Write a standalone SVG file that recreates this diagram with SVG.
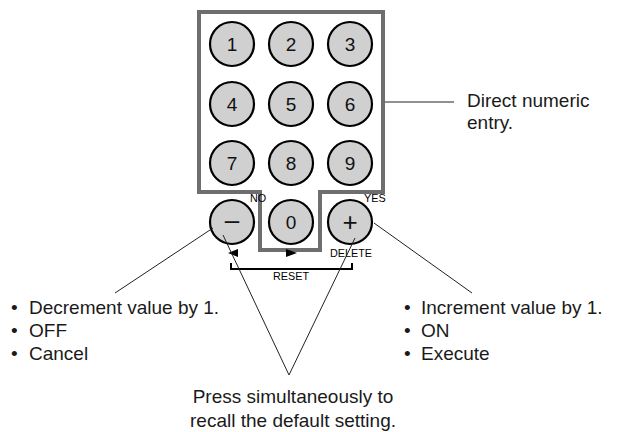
<svg xmlns="http://www.w3.org/2000/svg" width="621" height="432" viewBox="0 0 621 432">
  <style>
    .key { fill: #d0d0d0; stroke: #000; stroke-width: 2.2; }
    .num { font-family: "Liberation Sans", Arial, sans-serif; font-size: 19px; fill: #111; text-anchor: middle; }
    .sym { font-family: "Liberation Sans", Arial, sans-serif; font-size: 26px; fill: #111; text-anchor: middle; }
    .lbl { font-family: "Liberation Sans", Arial, sans-serif; font-size: 10.8px; fill: #000; }
    .txt { font-family: "Liberation Sans", Arial, sans-serif; font-size: 19px; fill: #1a1a1a; }
    .lead { stroke: #222; stroke-width: 1; fill: none; }
    .frame { fill: none; stroke: #6e6e6e; stroke-width: 4; }
  </style>
  <rect width="621" height="432" fill="#fff"/>

  <g id="frame">
    <path class="frame" d="M199 12 H383 V192 H320 V250 H260 V192 H199 Z"/>
  </g>

  <g id="key-1"><circle class="key" cx="232" cy="44" r="22"/><text class="num" x="232" y="51">1</text></g>
  <g id="key-2"><circle class="key" cx="291" cy="44" r="22"/><text class="num" x="291" y="51">2</text></g>
  <g id="key-3"><circle class="key" cx="350" cy="44" r="22"/><text class="num" x="350" y="51">3</text></g>
  <g id="key-4"><circle class="key" cx="232" cy="104" r="22"/><text class="num" x="232" y="111">4</text></g>
  <g id="key-5"><circle class="key" cx="291" cy="104" r="22"/><text class="num" x="291" y="111">5</text></g>
  <g id="key-6"><circle class="key" cx="350" cy="104" r="22"/><text class="num" x="350" y="111">6</text></g>
  <g id="key-7"><circle class="key" cx="232" cy="163" r="22"/><text class="num" x="232" y="170">7</text></g>
  <g id="key-8"><circle class="key" cx="291" cy="163" r="22"/><text class="num" x="291" y="170">8</text></g>
  <g id="key-9"><circle class="key" cx="350" cy="163" r="22"/><text class="num" x="350" y="170">9</text></g>
  <g id="key-minus"><circle class="key" cx="232" cy="222" r="22"/><text class="sym" x="232" y="229">–</text></g>
  <g id="key-0"><circle class="key" cx="291" cy="222" r="22"/><text class="num" x="291" y="229">0</text></g>
  <g id="key-plus"><circle class="key" cx="350" cy="222" r="22"/><text class="sym" x="350" y="231">+</text></g>

  <g id="labels">
    <text class="lbl" x="250" y="202">NO</text>
    <text class="lbl" x="364" y="202">YES</text>
    <text class="lbl" x="351" y="257" text-anchor="middle">DELETE</text>
    <text class="lbl" x="291" y="280" text-anchor="middle">RESET</text>
  </g>

  <g id="reset-marks">
    <path d="M228 253 L238 249 L238 257 Z" fill="#000"/>
    <path d="M297 253 L286 249 L286 257 Z" fill="#000"/>
    <path d="M231 263 V269 H352 V263" fill="none" stroke="#000" stroke-width="2"/>
  </g>

  <g id="connectors">
    <line class="lead" x1="385" y1="102" x2="454" y2="102"/>
    <line class="lead" x1="213" y1="228" x2="115" y2="293"/>
    <line class="lead" x1="374" y1="223" x2="472" y2="293"/>
    <line class="lead" x1="223" y1="235" x2="289" y2="375"/>
    <line class="lead" x1="355" y1="238" x2="289" y2="375"/>
  </g>

  <g id="note-direct">
    <text class="txt" x="467" y="107">Direct numeric</text>
    <text class="txt" x="467" y="129">entry.</text>
  </g>

  <g id="note-minus">
    <text class="txt" x="11" y="314">•</text><text class="txt" x="29" y="314">Decrement value by 1.</text>
    <text class="txt" x="11" y="337">•</text><text class="txt" x="29" y="337">OFF</text>
    <text class="txt" x="11" y="360">•</text><text class="txt" x="29" y="360">Cancel</text>
  </g>

  <g id="note-plus">
    <text class="txt" x="404" y="314">•</text><text class="txt" x="421" y="314">Increment value by 1.</text>
    <text class="txt" x="404" y="337">•</text><text class="txt" x="421" y="337">ON</text>
    <text class="txt" x="404" y="360">•</text><text class="txt" x="421" y="360">Execute</text>
  </g>

  <g id="note-reset">
    <text class="txt" x="293" y="403" text-anchor="middle">Press simultaneously to</text>
    <text class="txt" x="293" y="427" text-anchor="middle">recall the default setting.</text>
  </g>
</svg>
